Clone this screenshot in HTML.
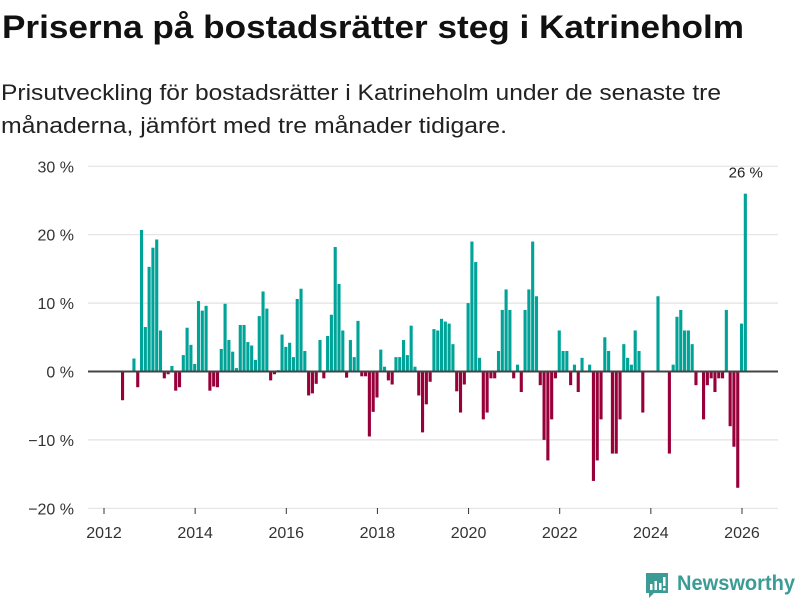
<!DOCTYPE html>
<html><head><meta charset="utf-8"><style>
html,body{margin:0;padding:0;background:#fff}
svg{display:block;font-family:"Liberation Sans",sans-serif}
</style></head><body>
<svg id="chart" width="800" height="600" viewBox="0 0 800 600" xmlns="http://www.w3.org/2000/svg">
<text x="2" y="38" font-size="32" font-weight="bold" fill="#111" textLength="742" lengthAdjust="spacingAndGlyphs">Priserna på bostadsrätter steg i Katrineholm</text>
<text x="1" y="100" font-size="22" fill="#222" textLength="720" lengthAdjust="spacingAndGlyphs">Prisutveckling för bostadsrätter i Katrineholm under de senaste tre</text>
<text x="1" y="133" font-size="22" fill="#222" textLength="506" lengthAdjust="spacingAndGlyphs">månaderna, jämfört med tre månader tidigare.</text>
<g id="grid"></g>
<g id="bars"></g>
<g id="axes"></g>
<g>
<path d="M646 573 h22 v20 h-14 l-5 5 v-5 h-3 z" fill="#3a9c95"/>
<rect x="650" y="584" width="2.5" height="6" fill="#fff"/>
<rect x="654.5" y="581" width="2.5" height="9" fill="#fff"/>
<rect x="659" y="583" width="2.5" height="7" fill="#fff"/>
<rect x="663" y="577" width="2.5" height="9" fill="#fff"/>
<rect x="663" y="588" width="2.5" height="2.5" fill="#fff"/>
<text x="677" y="590" font-size="21" font-weight="bold" fill="#3a9c95" textLength="118" lengthAdjust="spacingAndGlyphs">Newsworthy</text>
</g>
</svg>
<script>
const startYear = 2012;
const yTicks = [30, 20, 10, 0, -10, -20];
const yTickLabels = ["30 %", "20 %", "10 %", "0 %", "−10 %", "−20 %"];
const xTicks = [2012, 2014, 2016, 2018, 2020, 2022, 2024, 2026];
// monthly values (index 0 = Jan 2012); null = no data
const values = [
null,null,null,null,null,-4.2,null,null,1.9,-2.3,
20.7,6.5,15.3,18.1,19.3,6.0,-1.0,-0.4,0.8,-2.8,
-2.3,2.4,6.4,3.9,1.1,10.3,8.9,9.6,-2.8,-2.2,
-2.3,3.3,9.9,4.6,2.9,0.5,6.8,6.8,4.3,3.8,
1.7,8.1,11.7,9.2,-1.3,-0.4,0.2,5.4,3.6,4.2,
2.1,10.6,12.1,3.0,-3.5,-3.2,-1.8,4.6,-1.0,5.2,
8.3,18.2,12.8,6.0,-0.9,4.6,2.1,7.4,-0.7,-0.7,
-9.5,-5.9,-3.8,3.2,0.7,-1.3,-1.9,2.1,2.1,4.6,
2.4,6.7,0.7,-3.5,-8.9,-4.8,-1.5,6.2,6.0,7.7,
7.3,7.0,4.0,-2.9,-6.0,-1.9,10.0,19.0,16.0,2.0,
-7.0,-6.0,-1.0,-1.0,3.0,9.0,12.0,9.0,-1.0,1.0,
-3.0,9.0,12.0,19.0,11.0,-2.0,-10.0,-13.0,-7.0,-1.0,
6.0,3.0,3.0,-2.0,1.0,-3.0,2.0,null,1.0,-16.0,
-13.0,-7.0,5.0,3.0,-12.0,-12.0,-7.0,4.0,2.0,1.0,
6.0,3.0,-6.0,null,null,null,11.0,null,null,-12.0,
1.0,8.0,9.0,6.0,6.0,4.0,-2.0,null,-7.0,-2.0,
-1.0,-3.0,-1.0,-1.0,9.0,-8.0,-11.0,-17.0,7.0,26.0
];
const highlightLabel = "26 %";

const NS = "http://www.w3.org/2000/svg";
const x0 = 104, pxPerYear = 45.57, y0 = 371.5, pxPerPct = 6.84;
const xScale = y => x0 + (y - startYear) * pxPerYear;
const yScale = v => y0 - v * pxPerPct;
function mk(tag, attrs, parent) { const e = document.createElementNS(NS, tag); for (const k in attrs) e.setAttribute(k, attrs[k]); parent.appendChild(e); return e; }
const grid = document.getElementById('grid'), bars = document.getElementById('bars'), axes = document.getElementById('axes');
yTicks.forEach((t, i) => {
  if (t !== 0) {
    const l = mk('line', {x1: 88, x2: 778, y1: yScale(t), y2: yScale(t), stroke: '#e2e2e2', 'stroke-width': 1.2}, grid);
    
    
  }
  const tx = mk('text', {x: 74, y: yScale(t) + 6, 'text-anchor': 'end', 'font-size': 16, fill: '#333'}, axes);
  tx.textContent = yTickLabels[i];
  
  
});
xTicks.forEach(t => {
  const x = xScale(t);
  const tk = mk('line', {x1: x, x2: x, y1: 508, y2: 514, stroke: '#333', 'stroke-width': 1}, axes);
  
  
  const tx = mk('text', {x: x, y: 538, 'text-anchor': 'middle', 'font-size': 16, fill: '#333'}, axes);
  tx.textContent = t;
  
  
});
const step = pxPerYear / 12;
values.forEach((v, i) => {
  if (v === null) return;
  const x = xScale(startYear + i / 12) - 2;
  const y = v >= 0 ? yScale(v) : y0;
  const h = Math.abs(yScale(v) - y0);
  const r = mk('rect', {x: x, y: y, width: step * 0.82, height: h, fill: v >= 0 ? '#00a398' : '#98003a'}, bars);
  
  
});
const zl = mk('line', {x1: 88, x2: 778, y1: y0, y2: y0, stroke: '#444', 'stroke-width': 2}, axes);


let lastI = values.length - 1;
const lbl = mk('text', {x: xScale(startYear + lastI / 12), y: yScale(values[lastI]) - 16, 'text-anchor': 'middle', 'font-size': 15, fill: '#222'}, axes);
lbl.textContent = highlightLabel;


</script>
</body></html>
